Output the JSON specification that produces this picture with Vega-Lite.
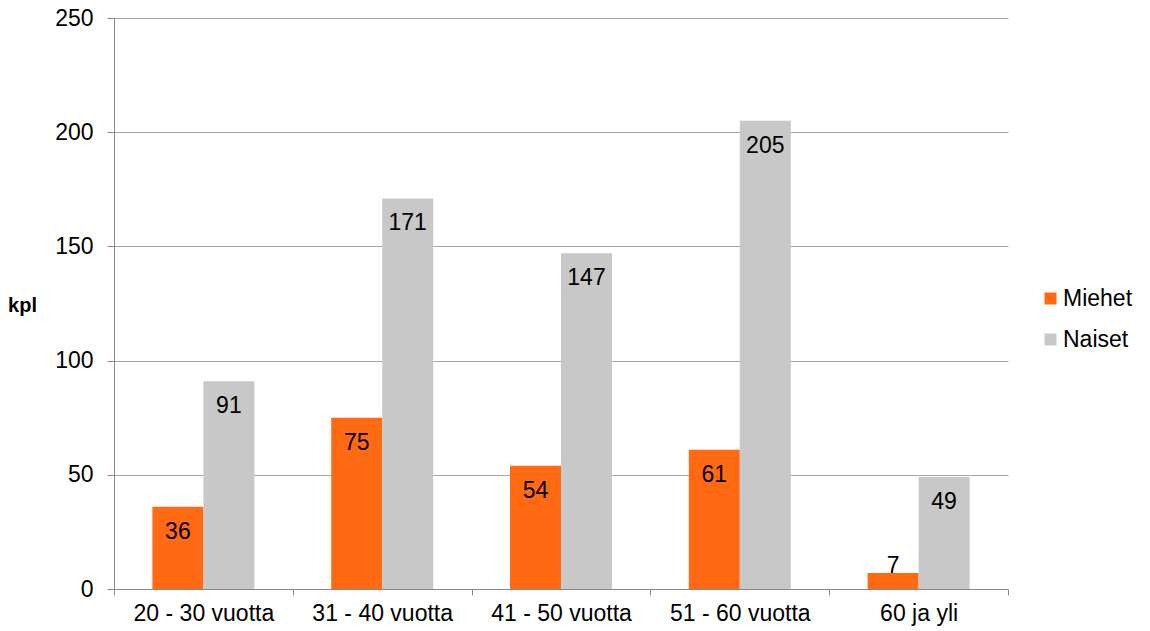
{
  "$schema": "https://vega.github.io/schema/vega-lite/v6.json",
  "autosize": {"type": "none"},
  "padding": {"left": 114, "top": 18, "right": 142, "bottom": 42},
  "width": 894,
  "height": 571,
  "background": "white",
  "config": {
    "font": "Liberation Sans",
    "view": {"stroke": null},
    "axis": {"labelFont": "Liberation Sans", "titleFont": "Liberation Sans", "labelColor": "#000000", "titleColor": "#000000"},
    "legend": {"labelFont": "Liberation Sans"}
  },
  "data": {
    "values": [
      {"ika": "20 - 30 vuotta", "sukupuoli": "Miehet", "kpl": 36},
      {"ika": "20 - 30 vuotta", "sukupuoli": "Naiset", "kpl": 91},
      {"ika": "31 - 40 vuotta", "sukupuoli": "Miehet", "kpl": 75},
      {"ika": "31 - 40 vuotta", "sukupuoli": "Naiset", "kpl": 171},
      {"ika": "41 - 50 vuotta", "sukupuoli": "Miehet", "kpl": 54},
      {"ika": "41 - 50 vuotta", "sukupuoli": "Naiset", "kpl": 147},
      {"ika": "51 - 60 vuotta", "sukupuoli": "Miehet", "kpl": 61},
      {"ika": "51 - 60 vuotta", "sukupuoli": "Naiset", "kpl": 205},
      {"ika": "60 ja yli", "sukupuoli": "Miehet", "kpl": 7},
      {"ika": "60 ja yli", "sukupuoli": "Naiset", "kpl": 49}
    ]
  },
  "encoding": {
    "x": {
      "field": "ika", "type": "nominal", "sort": null, "title": null,
      "scale": {"paddingInner": 0, "paddingOuter": 0},
      "axis": {
        "labelAngle": 0, "labelFontSize": 23, "labelPadding": 7,
        "tickBand": "extent", "tickSize": 6, "tickColor": "#888888",
        "domainColor": "#888888", "grid": false
      }
    },
    "xOffset": {
      "field": "sukupuoli", "type": "nominal", "sort": ["Miehet", "Naiset"],
      "scale": {"paddingInner": 0, "paddingOuter": 0.753}
    },
    "y": {
      "field": "kpl", "type": "quantitative", "title": "kpl",
      "scale": {"domain": [0, 250], "nice": false},
      "axis": {
        "values": [0, 50, 100, 150, 200, 250],
        "labelFontSize": 23, "labelPadding": 14, "tickSize": 7,
        "tickColor": "#888888", "domainColor": "#888888",
        "grid": true, "gridColor": "#A6A6A6", "gridWidth": 1,
        "titleAngle": 0, "titleFontSize": 20, "titleFontWeight": "bold",
        "titleX": -92, "titleY": 287, "titleAlign": "center", "titleBaseline": "middle"
      }
    }
  },
  "layer": [
    {
      "mark": {"type": "bar"},
      "encoding": {
        "color": {
          "field": "sukupuoli", "type": "nominal", "title": null,
          "scale": {"domain": ["Miehet", "Naiset"], "range": ["#FF6A13", "#C8C8C8"]},
          "legend": {
            "orient": "none", "legendX": 925, "legendY": 269,
            "symbolType": "square", "symbolSize": 144, "symbolStrokeWidth": 0,
            "labelFontSize": 23, "labelColor": "#000000", "labelOffset": 1,
            "rowPadding": 17
          }
        }
      }
    },
    {
      "transform": [{"filter": "datum.kpl >= 20"}],
      "mark": {"type": "text", "baseline": "top", "dy": 14, "fontSize": 23, "color": "#000000"},
      "encoding": {"text": {"field": "kpl", "type": "quantitative"}}
    },
    {
      "transform": [{"filter": "datum.kpl < 20"}],
      "mark": {"type": "text", "baseline": "alphabetic", "dy": 0, "fontSize": 23, "color": "#000000"},
      "encoding": {"text": {"field": "kpl", "type": "quantitative"}}
    }
  ]
}
